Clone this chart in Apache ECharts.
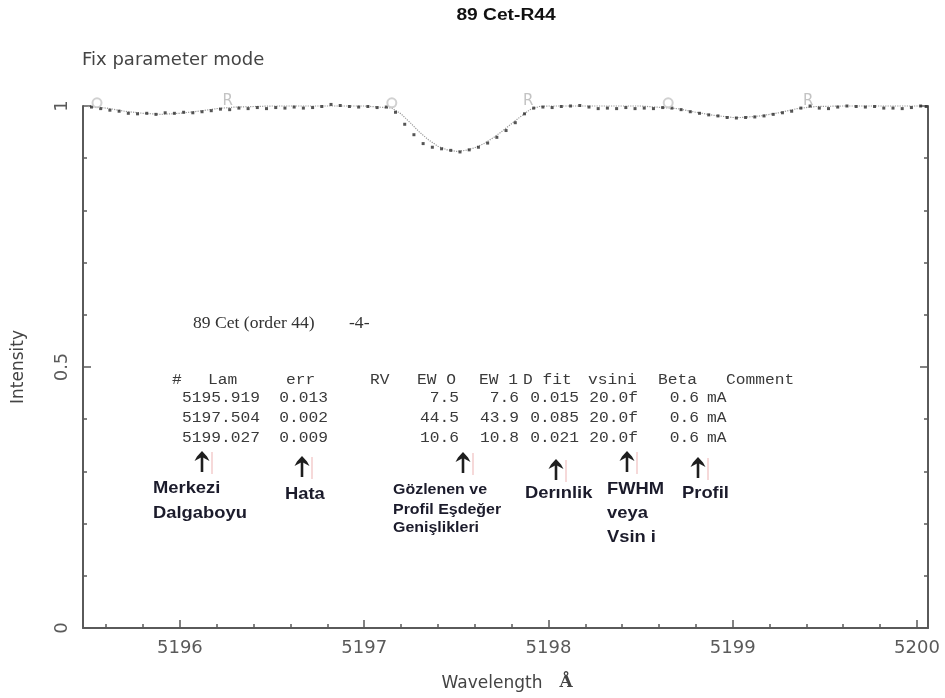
<!DOCTYPE html>
<html>
<head>
<meta charset="utf-8">
<title>89 Cet-R44</title>
<script src="https://cdn.jsdelivr.net/npm/echarts@6/dist/echarts.min.js"></script>
<style>
  html, body { margin: 0; padding: 0; background: #fff; }
  #chart { width: 945px; height: 698px; }
</style>
</head>
<body>
<div id="chart"></div>
<script>
// Observed spectrum (wavelength in Angstrom, normalised intensity)
const obsWave = [
  5195.52, 5195.57, 5195.62, 5195.67, 5195.72, 5195.77, 5195.82, 5195.87, 5195.92, 5195.97,
  5196.02, 5196.07, 5196.12, 5196.17, 5196.22, 5196.27, 5196.32, 5196.37, 5196.42, 5196.47,
  5196.52, 5196.57, 5196.62, 5196.67, 5196.72, 5196.77, 5196.82, 5196.87, 5196.92, 5196.97,
  5197.02, 5197.07, 5197.12, 5197.17, 5197.22, 5197.27, 5197.32, 5197.37, 5197.42, 5197.47,
  5197.52, 5197.57, 5197.62, 5197.67, 5197.72, 5197.77, 5197.82, 5197.87, 5197.92, 5197.97,
  5198.02, 5198.07, 5198.12, 5198.17, 5198.22, 5198.27, 5198.32, 5198.37, 5198.42, 5198.47,
  5198.52, 5198.57, 5198.62, 5198.67, 5198.72, 5198.77, 5198.82, 5198.87, 5198.92, 5198.97,
  5199.02, 5199.07, 5199.12, 5199.17, 5199.22, 5199.27, 5199.32, 5199.37, 5199.42, 5199.47,
  5199.52, 5199.57, 5199.62, 5199.67, 5199.72, 5199.77, 5199.82, 5199.87, 5199.92, 5199.97,
  5200.02, 5200.05
];
const obsFlux = [
  0.998, 0.995, 0.992, 0.990, 0.986, 0.985, 0.986, 0.984, 0.987, 0.986,
  0.988, 0.987, 0.989, 0.991, 0.994, 0.993, 0.996, 0.995, 0.997, 0.995,
  0.997, 0.996, 0.998, 0.996, 0.997, 0.999, 1.003, 1.001, 0.999, 0.998,
  0.999, 0.997, 0.998, 0.988, 0.965, 0.945, 0.928, 0.921, 0.918, 0.915,
  0.912, 0.916, 0.921, 0.929, 0.940, 0.953, 0.968, 0.985, 0.996, 0.998,
  0.997, 0.999, 1.000, 1.001, 0.998, 0.995, 0.996, 0.995, 0.997, 0.995,
  0.996, 0.995, 0.997, 0.996, 0.993, 0.989, 0.986, 0.983, 0.981, 0.978,
  0.977, 0.978, 0.979, 0.981, 0.984, 0.987, 0.990, 0.996, 1.000, 0.996,
  0.995, 0.998, 1.000, 0.999, 0.998, 0.999, 0.996, 0.996, 0.995, 0.997,
  1.000, 0.999
];

// Fitted profile
const fitWave = [
  5195.50, 5195.60, 5195.70, 5195.80, 5195.90, 5196.00, 5196.10, 5196.20, 5196.30, 5196.50,
  5197.00, 5197.15, 5197.20, 5197.25, 5197.30, 5197.35, 5197.40, 5197.45, 5197.50, 5197.55,
  5197.60, 5197.65, 5197.70, 5197.75, 5197.80, 5197.85, 5197.90, 5197.95, 5198.00, 5198.50,
  5198.70, 5198.80, 5198.90, 5199.00, 5199.05, 5199.15, 5199.25, 5199.35, 5199.45, 5199.60,
  5200.06
];
const fitFlux = [
  0.999, 0.996, 0.990, 0.986, 0.984, 0.986, 0.990, 0.995, 0.998, 1.000,
  1.000, 0.996, 0.985, 0.968, 0.950, 0.935, 0.923, 0.916, 0.913, 0.915,
  0.920, 0.928, 0.939, 0.952, 0.966, 0.980, 0.993, 0.999, 1.000, 1.000,
  0.995, 0.988, 0.982, 0.978, 0.978, 0.981, 0.987, 0.995, 0.999, 1.000,
  1.000
];

// Continuum window markers
const winWave = [5195.55, 5197.15, 5198.65];
const winFlux = [1.006, 1.006, 1.006];
const refWave = [5196.26, 5197.89, 5199.41];
const refFlux = [1.010, 1.010, 1.010];

// Line measurement table
const tableHead = ['#', 'Lam', 'err', 'RV', 'EW O', 'EW 1', 'D fit', 'vsini', 'Beta', 'Comment'];
const lineLam = ['5195.919', '5197.504', '5199.027'];
const lineErr = ['0.013', '0.002', '0.009'];
const lineEwObs = ['7.5', '44.5', '10.6'];
const lineEwFit = ['7.6', '43.9', '10.8'];
const lineDepth = ['0.015', '0.085', '0.021'];
const lineVsini = ['20.0f', '20.0f', '20.0f'];
const lineBeta = ['0.6', '0.6', '0.6'];
const lineUnit = ['mA', 'mA', 'mA'];

// Axis ticks
const xTickLabels = ['5196', '5197', '5198', '5199', '5200'];
const yTickLabels = ['0', '0.5', '1'];

const pairs = (xs, ys) => xs.map((x, i) => [x, ys[i]]);

const chart = echarts.init(document.getElementById('chart'), null, { renderer: 'canvas' });

const axisGray = '#5a5a5a';
const labelFont = '"DejaVu Sans", sans-serif';

function txt(text, x, y, font, fill, align, sx) {
  const a = align || 'left';
  return {
    type: 'text', x: x, y: y, scaleX: sx || 1, silent: true, z: 10,
    style: {
      text: text, font: font, fill: fill,
      textAlign: a, align: a, textVerticalAlign: 'middle', verticalAlign: 'middle'
    }
  };
}

function arrow(x, y) {
  return [
    { type: 'rect', silent: true, z: 9, shape: { x: x - 1.3, y: y + 4, width: 2.6, height: 17 }, style: { fill: '#1e1e1e' } },
    { type: 'polygon', silent: true, z: 9,
      shape: { points: [[x - 7.5, y + 10], [x - 5, y + 5.5], [x, y], [x + 5, y + 5.5], [x + 7.5, y + 10], [x, y + 6]] },
      style: { fill: '#1e1e1e' } }
  ];
}

function pinkMark(x, y) {
  return { type: 'rect', silent: true, z: 8, shape: { x: x, y: y, width: 2, height: 22 }, style: { fill: '#f6d9d9' } };
}

const graphics = [];
// headings
graphics.push(txt('89 Cet-R44', 506, 16, 'bold 16px "Liberation Sans", Arial, sans-serif', '#111', 'center', 1.2));
graphics.push(txt('Fix parameter mode', 82, 60, '18px ' + labelFont, '#444', 'left', 1));
graphics.push(txt('Wavelength', 492, 684, '17px ' + labelFont, '#444', 'center', 1));
graphics.push(txt('Å', 566, 683, 'bold 17px "DejaVu Serif", serif', '#444', 'center', 1));
graphics.push({
  type: 'text', x: 19, y: 367, rotation: Math.PI / 2, silent: true, z: 10,
  style: { text: 'Intensity', font: '17px ' + labelFont, fill: '#444',
    textAlign: 'center', align: 'center', textVerticalAlign: 'middle', verticalAlign: 'middle' }
});

// annotation block inside plot
graphics.push(txt('89 Cet (order 44)', 193, 324, '16px "Liberation Serif", "Times New Roman", serif', '#333', 'left', 1.1));
graphics.push(txt('-4-', 349, 324, '16px "Liberation Serif", "Times New Roman", serif', '#333', 'left', 1.1));

const mono = '14px "Liberation Mono", "Courier New", monospace';
const monoFill = '#3a3a3a';
const headX = [172, 208, 286, 370, 417, 479, 523, 588, 658, 726];
tableHead.forEach((h, i) => graphics.push(txt(h, headX[i], 380, mono, monoFill, 'left', 1.16)));
const rowY = [398, 418, 438];
const cols = [
  [lineLam, 260], [lineErr, 328], [lineEwObs, 459], [lineEwFit, 519],
  [lineDepth, 579], [lineVsini, 638], [lineBeta, 699]
];
rowY.forEach((y, r) => {
  cols.forEach(([arr, xr]) => graphics.push(txt(arr[r], xr, y, mono, monoFill, 'right', 1.16)));
  graphics.push(txt(lineUnit[r], 707, y, mono, monoFill, 'left', 1.16));
});

// arrows pointing to the table columns
const arrowTips = [[202, 451], [302, 456], [463, 452], [556, 459], [627, 451], [698, 457]];
arrowTips.forEach(([x, y]) => {
  graphics.push(pinkMark(x + 9, y + 1));
  arrow(x, y).forEach(g => graphics.push(g));
});

const bold17 = 'bold 17px "Liberation Sans", Arial, sans-serif';
const bold14 = 'bold 14px "Liberation Sans", Arial, sans-serif';
const ink = '#1b1b2b';
graphics.push(txt('Merkezi', 153, 488, bold17, ink, 'left', 1.08));
graphics.push(txt('Dalgaboyu', 153, 513, bold17, ink, 'left', 1.08));
graphics.push(txt('Hata', 285, 494, bold17, ink, 'left', 1.08));
graphics.push(txt('Gözlenen ve', 393, 490, bold14, ink, 'left', 1.14));
graphics.push(txt('Profil Eşdeğer', 393, 510, bold14, ink, 'left', 1.14));
graphics.push(txt('Genişlikleri', 393, 528, bold14, ink, 'left', 1.14));
graphics.push(txt('Derınlik', 525, 493, bold17, ink, 'left', 1.08));
graphics.push(txt('FWHM', 607, 489, bold17, ink, 'left', 1.08));
graphics.push(txt('veya', 607, 513, bold17, ink, 'left', 1.08));
graphics.push(txt('Vsin i', 607, 537, bold17, ink, 'left', 1.08));
graphics.push(txt('Profil', 682, 493, bold17, ink, 'left', 1.08));

const yAxisBase = {
  type: 'value', min: 0, max: 1, interval: 0.5,
  axisLine: { show: true, lineStyle: { color: axisGray, width: 2 } },
  axisTick: { show: true, inside: true, length: 8, lineStyle: { color: axisGray, width: 1.5 } },
  minorTick: { show: true, splitNumber: 5, length: 4, lineStyle: { color: axisGray, width: 1.5 } },
  splitLine: { show: false },
  minorSplitLine: { show: false }
};

const option = {
  animation: false,
  backgroundColor: '#ffffff',
  grid: { left: 83, right: 17, top: 106, bottom: 70, containLabel: false },
  xAxis: {
    type: 'value', min: 5195.474, max: 5200.06, splitNumber: 5,
    axisLine: { show: true, onZero: false, lineStyle: { color: axisGray, width: 2 } },
    axisTick: { show: true, inside: true, length: 8, lineStyle: { color: axisGray, width: 1.5 } },
    minorTick: { show: true, splitNumber: 5, length: 4, lineStyle: { color: axisGray, width: 1.5 } },
    splitLine: { show: false },
    axisLabel: {
      margin: 11, fontSize: 18, fontFamily: 'DejaVu Sans', color: '#5a5a5a',
      showMinLabel: true, showMaxLabel: true,
      formatter: v => {
        const s = String(Math.round(v));
        return Math.abs(v - Math.round(v)) < 1e-6 && xTickLabels.includes(s) ? s : '';
      }
    }
  },
  yAxis: [
    Object.assign({}, yAxisBase, {
      position: 'left',
      axisLabel: {
        rotate: 90, margin: 12, fontSize: 18, fontFamily: 'DejaVu Sans', color: '#5a5a5a',
        formatter: v => {
          const s = String(v);
          return yTickLabels.includes(s) ? s : '';
        }
      }
    }),
    Object.assign({}, yAxisBase, { position: 'right', axisLabel: { show: false } })
  ],
  graphic: graphics,
  series: [
    {
      name: 'fit', type: 'line', data: pairs(fitWave, fitFlux), showSymbol: false, z: 2, clip: false,
      lineStyle: { color: '#9a9a9a', width: 1.2, type: 'dotted' }, silent: true
    },
    {
      name: 'observed', type: 'scatter', data: pairs(obsWave, obsFlux), z: 3, clip: false,
      symbol: 'rect', symbolSize: 3, itemStyle: { color: '#2a2a2a' }, silent: true
    },
    {
      name: 'window', type: 'scatter', data: pairs(winWave, winFlux), z: 4, clip: false,
      symbol: 'emptyCircle', symbolSize: 9, itemStyle: { color: '#c6c6c6', borderWidth: 1.2 }, silent: true
    },
    {
      name: 'reference', type: 'scatter', data: pairs(refWave, refFlux), z: 4, clip: false,
      symbol: 'circle', symbolSize: 1, itemStyle: { color: 'rgba(0,0,0,0)' }, silent: true,
      label: { show: true, position: 'inside', formatter: 'R', fontSize: 15, fontFamily: 'DejaVu Sans', color: '#b4b4b4' }
    }
  ]
};

chart.setOption(option);
</script>
</body>
</html>
